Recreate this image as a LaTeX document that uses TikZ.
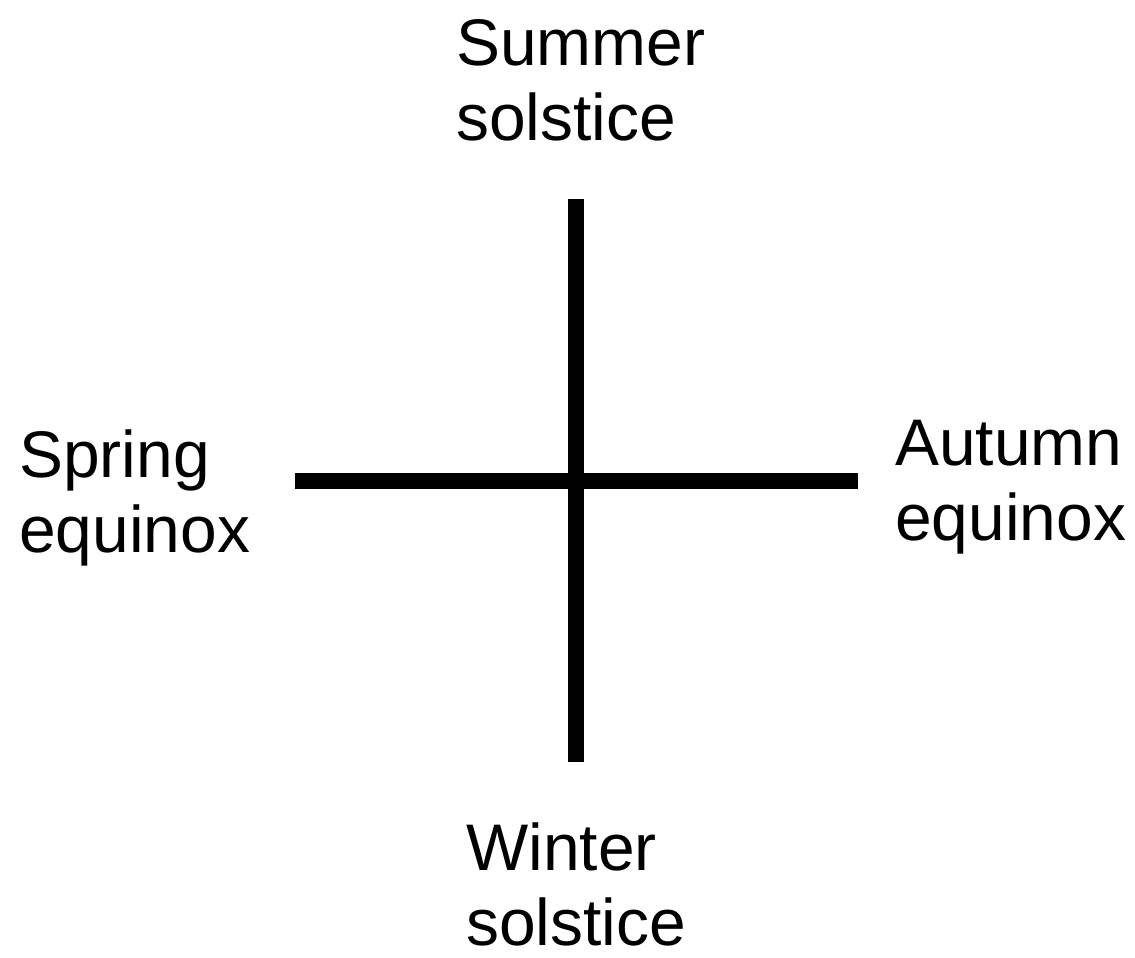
\documentclass[tikz,border=0pt]{standalone}
\usepackage{fontspec}
\setmainfont{Liberation Sans}
\begin{document}
\begin{tikzpicture}[x=0.02cm,y=-0.02cm,
  axis/.style={line width=0.32cm},
  lbl/.style={inner sep=0pt,align=left,anchor=base west,font=\fontsize{37.5}{42.5}\selectfont}]
\useasboundingbox (0,0) rectangle (1135,957);
\coordinate (top) at (576,199);
\coordinate (bot) at (576,762);
\coordinate (lft) at (295,481);
\coordinate (rgt) at (858,481);
\draw[axis] (top) -- (bot);
\draw[axis] (lft) -- (rgt);
\node[lbl] (summer) at (456,140) {Summer\\solstice};
\node[lbl] (spring) at (19,552) {Spring\\equinox};
\node[lbl] (autumn) at (895,540) {Autumn\\equinox};
\node[lbl] (winter) at (466,945) {Winter\\solstice};
\end{tikzpicture}
\end{document}
